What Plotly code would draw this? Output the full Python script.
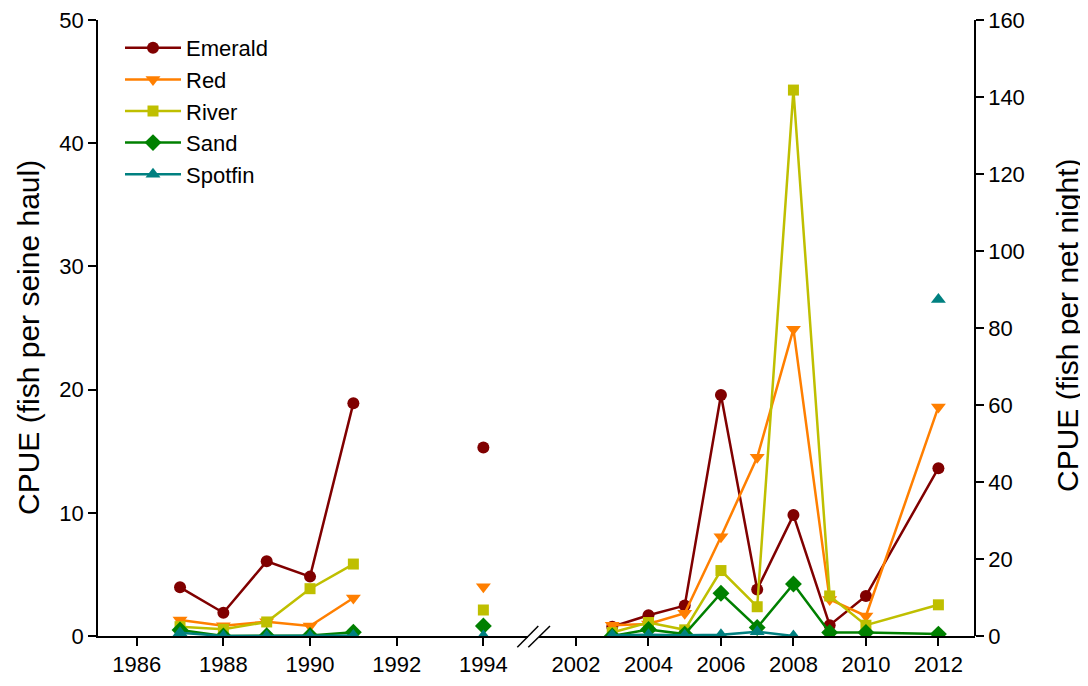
import plotly.graph_objects as go

# ---- data ----
species = ["Emerald", "Red", "River", "Sand", "Spotfin"]
colors = ["#800000", "#FF7F00", "#BFBF00", "#008000", "#008080"]
symbols = ["circle", "triangle-down", "square", "diamond", "triangle-up"]
sizes = [12, 13, 11, 13, 13]

# early period: seine survey (left axis, fish per seine haul)
years_early = [1987, 1988, 1989, 1990, 1991, 1992, 1994]
emerald_early = [3.95, 1.89, 6.06, 4.82, 18.9, None, 15.3]
red_early = [1.30, 0.84, 1.16, 0.81, 3.08, None, 4.0]
river_early = [0.76, 0.54, 1.14, 3.84, 5.84, None, 2.11]
sand_early = [0.49, 0.0, 0.02, 0.05, 0.30, None, 0.81]
spotfin_early = [0.27, 0.0, 0.0, 0.0, 0.05, None, 0.0]

# late period: net survey (right axis, fish per net night)
years_late = [2003, 2004, 2005, 2006, 2007, 2008, 2009, 2010, 2012]
emerald_late = [2.4, 5.4, 7.9, 62.6, 12.1, 31.4, 2.8, 10.4, 43.6]
red_late = [2.8, 3.1, 5.9, 25.8, 46.4, 79.7, 9.5, 5.2, 59.5]
river_late = [0.9, 3.5, 1.6, 17.0, 7.6, 141.8, 10.4, 2.8, 8.1]
sand_late = [0.0, 1.7, 0.5, 11.1, 2.2, 13.5, 0.9, 0.9, 0.5]
spotfin_late = [0.2, 0.3, 0.2, 0.3, 1.1, 0.0, None, None, 87.4]

early = [emerald_early, red_early, river_early, sand_early, spotfin_early]
late = [emerald_late, red_late, river_late, sand_late, spotfin_late]

ticks_early = [1986, 1988, 1990, 1992, 1994]
ticks_late = [2002, 2004, 2006, 2008, 2010, 2012]

left_title = "CPUE (fish per seine haul)"
right_title = "CPUE (fish per net night)"

FONT = "Arial, Liberation Sans, sans-serif"
OFF = 8  # page body margin of the browser

fig = go.Figure()
for i, name in enumerate(species):
    fig.add_trace(go.Scatter(
        x=years_early, y=early[i], name=name, legendgroup=name,
        mode="lines+markers", connectgaps=False,
        line=dict(color=colors[i], width=2.5),
        marker=dict(symbol=symbols[i], size=sizes[i], color=colors[i], line=dict(width=0)),
        xaxis="x", yaxis="y", showlegend=True))
for i, name in enumerate(species):
    fig.add_trace(go.Scatter(
        x=years_late, y=late[i], name=name, legendgroup=name,
        mode="lines+markers", connectgaps=False,
        line=dict(color=colors[i], width=2.5),
        marker=dict(symbol=symbols[i], size=sizes[i], color=colors[i], line=dict(width=0)),
        xaxis="x2", yaxis="y2", showlegend=False))

axis_common = dict(showgrid=False, zeroline=False, showline=True, linecolor="black",
                   linewidth=1.5, ticks="outside", ticklen=8, tickwidth=1.5,
                   tickcolor="black", ticklabeloverflow="allow",
                   tickfont=dict(family=FONT, size=22, color="black"))

W_L, W_R = 98, 975
def px2paper(px):
    return (px - W_L) / (W_R - W_L)

def py2paper(py):
    return (636 - py) / 616

fig.update_layout(
    width=1088 - OFF, height=686 - OFF,
    margin=dict(l=98 - OFF, r=1088 - 975, t=20 - OFF, b=50, autoexpand=False),
    plot_bgcolor="white", paper_bgcolor="white",
    font=dict(family=FONT, color="black"),
    xaxis=dict(domain=[0, px2paper(528)], range=[1985.107, 1995.03],
               tickvals=ticks_early, anchor="y", **axis_common),
    xaxis2=dict(domain=[px2paper(539), 1], range=[2000.979, 2013.01],
                tickvals=ticks_late, anchor="y", **axis_common),
    yaxis=dict(range=[0, 50], tickvals=[0, 10, 20, 30, 40, 50], anchor="x",
               **axis_common),
    yaxis2=dict(range=[0, 160], tickvals=list(range(0, 161, 20)), overlaying="y",
                side="right", anchor="free", position=1,
                **axis_common),
    legend=dict(x=px2paper(120), y=py2paper(27), xanchor="left", yanchor="top",
                font=dict(family=FONT, size=22), bgcolor="rgba(0,0,0,0)",
                tracegroupgap=0, itemwidth=56),
    showlegend=True,
)

# axis titles as rotated text
fig.add_annotation(text=left_title, textangle=-90, showarrow=False,
                   xref="paper", yref="paper", x=px2paper(29), y=py2paper(338),
                   xanchor="center", yanchor="middle",
                   font=dict(family=FONT, size=30, color="black"))
fig.add_annotation(text=right_title, textangle=-90, showarrow=False,
                   xref="paper", yref="paper", x=px2paper(1067), y=py2paper(326),
                   xanchor="center", yanchor="middle",
                   font=dict(family=FONT, size=30, color="black"))

for (x0, y0, x1, y1) in [(517.3, 647.3, 538.3, 626), (528.3, 647.3, 550, 626)]:
    fig.add_shape(type="line", xref="paper", yref="paper",
                  x0=px2paper(x0), y0=py2paper(y0), x1=px2paper(x1), y1=py2paper(y1),
                  line=dict(color="black", width=1.5))

fig.write_html("out.html")
